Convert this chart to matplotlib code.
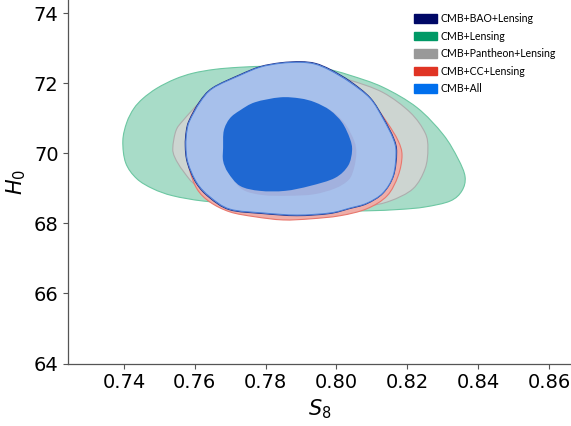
import numpy as np
import matplotlib
matplotlib.use("Agg")
import matplotlib.pyplot as plt
from matplotlib.path import Path
from matplotlib.patches import PathPatch, Patch

# 95% contour boundaries (S8, H0)
lens_s8 = [0.7397, 0.7408, 0.7428, 0.7454, 0.7493, 0.7544, 0.7595, 0.7657, 0.7728, 0.7812, 0.7897, 0.7968,
           0.8038, 0.8131, 0.8227, 0.8301, 0.8343, 0.8363, 0.8354, 0.8321, 0.8250, 0.8179, 0.8086, 0.7990,
           0.7869, 0.7728, 0.7623, 0.7538, 0.7482, 0.7436, 0.7405]
lens_h0 = [70.36, 70.88, 71.28, 71.57, 71.86, 72.12, 72.29, 72.40, 72.46, 72.49, 72.48, 72.42,
           72.23, 71.89, 71.31, 70.54, 69.85, 69.33, 68.93, 68.64, 68.47, 68.40, 68.36, 68.36,
           68.44, 68.56, 68.64, 68.79, 68.99, 69.28, 69.73]

panth_s8 = [0.7538, 0.7547, 0.7567, 0.7615, 0.7657, 0.7728, 0.7812, 0.7897, 0.7982, 0.8038, 0.8131, 0.8208,
            0.8250, 0.8258, 0.8250, 0.8216, 0.8151, 0.8086, 0.7990, 0.7897, 0.7784, 0.7685, 0.7606, 0.7567, 0.7544]
panth_h0 = [70.16, 70.65, 70.94, 71.46, 71.74, 72.00, 72.17, 72.26, 72.20, 72.09, 71.74, 71.17,
            70.59, 70.13, 69.56, 68.99, 68.64, 68.50, 68.47, 68.50, 68.56, 68.73, 69.07, 69.50, 69.88]

cc_s8 = [0.7575, 0.7581, 0.7595, 0.7623, 0.7663, 0.7728, 0.7790, 0.7855, 0.7911, 0.7982, 0.8044, 0.8100, 0.8143,
         0.8174, 0.8185, 0.8174, 0.8143, 0.8086, 0.8010, 0.7925, 0.7849, 0.7770, 0.7699, 0.7643, 0.7606, 0.7584]
cc_h0 = [70.28, 70.80, 71.17, 71.57, 71.91, 72.23, 72.43, 72.52, 72.49, 72.32, 71.94, 71.46, 70.88,
         70.36, 69.94, 69.36, 68.79, 68.42, 68.22, 68.13, 68.10, 68.19, 68.33, 68.61, 68.99, 69.59]

bao_s8 = [0.7573, 0.7576, 0.7584, 0.7613, 0.7650, 0.7728, 0.7785, 0.7843, 0.7899, 0.7941, 0.7984, 0.8040, 0.8096,
          0.8133, 0.8162, 0.8170, 0.8161, 0.8131, 0.8085, 0.8036, 0.7980, 0.7888, 0.7792, 0.7698, 0.7641, 0.7604, 0.7579]
bao_h0 = [70.22, 70.65, 70.94, 71.47, 71.87, 72.25, 72.48, 72.59, 72.62, 72.57, 72.39, 72.05, 71.58,
          71.00, 70.42, 70.02, 69.36, 68.86, 68.56, 68.42, 68.28, 68.22, 68.28, 68.39, 68.74, 69.15, 69.73]

all_s8 = [0.7575, 0.7578, 0.7586, 0.7615, 0.7651, 0.7728, 0.7784, 0.7841, 0.7897, 0.7939, 0.7982, 0.8038, 0.8095,
          0.8131, 0.8160, 0.8168, 0.8160, 0.8131, 0.8086, 0.8038, 0.7982, 0.7889, 0.7793, 0.7699, 0.7643, 0.7606, 0.7581]
all_h0 = [70.22, 70.65, 70.94, 71.46, 71.86, 72.23, 72.46, 72.57, 72.60, 72.55, 72.37, 72.03, 71.57,
          71.00, 70.42, 70.02, 69.36, 68.87, 68.58, 68.44, 68.30, 68.24, 68.30, 68.41, 68.76, 69.16, 69.73]

# 68% contours
other68_s8 = [0.7690, 0.7692, 0.7709, 0.7738, 0.7780, 0.7851, 0.7907, 0.7949, 0.7992, 0.8026, 0.8050, 0.8056,
              0.8050, 0.8035, 0.7996, 0.7935, 0.7863, 0.7792, 0.7736, 0.7702, 0.7690]
other68_h0 = [70.10, 70.59, 70.94, 71.17, 71.40, 71.54, 71.51, 71.40, 71.17, 70.82, 70.36, 70.02,
              69.60, 69.25, 69.00, 68.83, 68.79, 68.81, 68.96, 69.35, 69.72]

all68_s8 = [0.7680, 0.7682, 0.7699, 0.7728, 0.7770, 0.7841, 0.7897, 0.7939, 0.7982, 0.8016, 0.8038, 0.8044,
            0.8033, 0.7996, 0.7925, 0.7855, 0.7784, 0.7728, 0.7694, 0.7680]
all68_h0 = [70.16, 70.65, 71.00, 71.23, 71.46, 71.60, 71.57, 71.46, 71.23, 70.88, 70.42, 70.08,
            69.65, 69.30, 69.07, 68.93, 68.93, 69.07, 69.45, 69.79]

labels = ["CMB+BAO+Lensing", "CMB+Lensing", "CMB+Pantheon+Lensing", "CMB+CC+Lensing", "CMB+All"]
colors = ["#000866", "#009966", "#999999", "#E03424", "#006FED"]

x_ticks = [0.74, 0.76, 0.78, 0.80, 0.82, 0.84, 0.86]
y_ticks = [64, 66, 68, 70, 72, 74]


def closed_curve(xs, ys):
    # smooth closed path through the points (Catmull-Rom as cubic Bezier)
    p = np.column_stack([xs, ys])
    n = len(p)
    verts = [p[0]]
    codes = [Path.MOVETO]
    for i in range(n):
        p0, p1, p2, p3 = p[i - 1], p[i], p[(i + 1) % n], p[(i + 2) % n]
        verts += [p1 + (p2 - p0) / 6, p2 - (p3 - p1) / 6, p2]
        codes += [Path.CURVE4] * 3
    return Path(verts, codes)


def add_region(ax, xs, ys, face, edge, lw=0.8, alpha=1.0, z=1):
    ax.add_patch(PathPatch(closed_curve(xs, ys), facecolor=face, edgecolor="none", alpha=alpha, zorder=z))
    if edge is not None:
        ax.add_patch(PathPatch(closed_curve(xs, ys), facecolor="none", edgecolor=edge, lw=lw, zorder=z + 0.1))


fig = plt.figure(figsize=(5.71, 4.26), dpi=100)
ax = fig.add_axes([0.1196, 0.1467, 0.8804, 0.8533])

add_region(ax, lens_s8, lens_h0, "#a8dcc8", "#6cc7a2", z=1)
add_region(ax, panth_s8, panth_h0, "#d0d5d2", "#adadad", alpha=0.95, z=2)
add_region(ax, cc_s8, cc_h0, "#efaea8", "#e8776d", z=3)
add_region(ax, bao_s8, bao_h0, "#9fb6e6", "#24358c", lw=0.7, z=4)
add_region(ax, all_s8, all_h0, "#a8c1ec", "#4a7fd8", lw=0.7, alpha=0.93, z=5)
add_region(ax, other68_s8, other68_h0, "#a2b1de", None, z=6)
add_region(ax, all68_s8, all68_h0, "#1f68d2", None, z=7)

ax.set_xlim(0.7243, 0.8662)
ax.set_ylim(64.0, 74.38)
ax.set_xticks(x_ticks)
ax.set_xticklabels(["%.2f" % v for v in x_ticks])
ax.set_yticks(y_ticks)
ax.tick_params(labelsize=14, length=3.5, width=0.8, color="#555555", direction="out")
for s in ["top", "right"]:
    ax.spines[s].set_visible(False)
for s in ["left", "bottom"]:
    ax.spines[s].set_color("#555555")
    ax.spines[s].set_linewidth(0.9)

ax.set_xlabel(r"$S_8$", fontsize=15)
ax.set_ylabel(r"$H_0$", fontsize=15)

handles = [Patch(facecolor=c, edgecolor=c) for c in colors]
ax.legend(handles, labels, loc="upper left", bbox_to_anchor=(414 / 571, 1 - 13 / 426),
          bbox_transform=fig.transFigure, frameon=False, borderpad=0, borderaxespad=0,
          prop={"family": "Lato", "size": 7.6}, handlelength=2.2, handleheight=0.85,
          handletextpad=0.3, labelspacing=0.62)

fig.savefig("out.png", dpi=100)
